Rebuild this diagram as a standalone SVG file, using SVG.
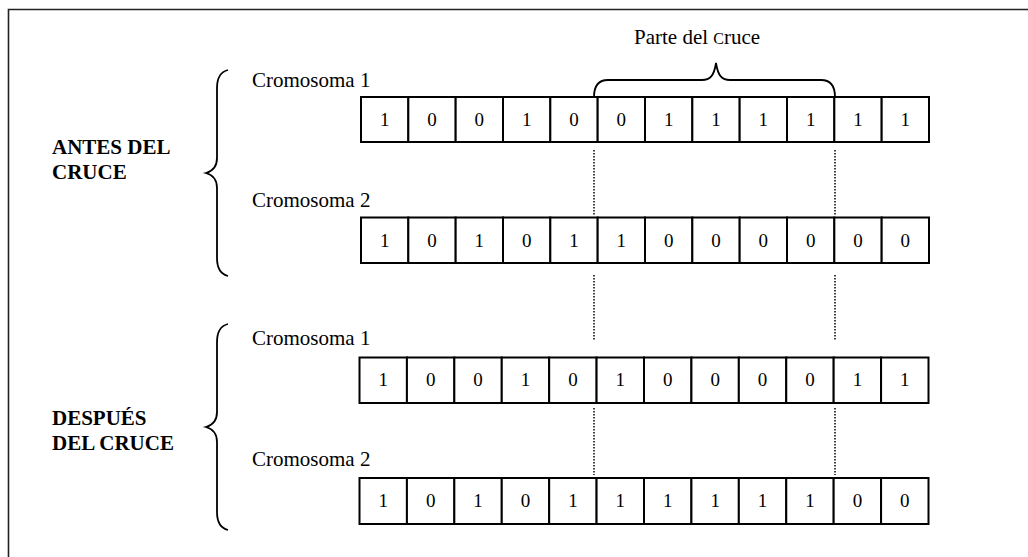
<svg xmlns="http://www.w3.org/2000/svg" width="1028" height="557" viewBox="0 0 1028 557">
  <style>
    .frame { fill: none; stroke: #222; stroke-width: 1.6; }
    .cell { fill: #fff; stroke: #000; stroke-width: 2; }
    .bit { font-family: "Liberation Serif", "Times New Roman", serif; font-size: 19px; fill: #000; text-anchor: middle; }
    .label { font-family: "Liberation Serif", "Times New Roman", serif; font-size: 21px; fill: #000; }
    .title { font-family: "Liberation Serif", "Times New Roman", serif; font-size: 21px; font-weight: bold; fill: #000; }
    .brace { fill: none; stroke: #000; stroke-width: 1.8; }
    .cut { fill: none; stroke: #000; stroke-width: 1.5; stroke-dasharray: 1.5 1.5; }
  </style>

  <rect width="1028" height="557" fill="#fff"/>
  <!-- page frame (right and bottom edges fall outside the view) -->
  <path class="frame" d="M8.5,600 L8.5,9.5 L1040,9.5"/>

  <!-- group headings -->
  <g id="antes">
    <text class="title" x="52" y="154">ANTES DEL</text>
    <text class="title" x="52" y="179">CRUCE</text>
    <path class="brace" d="M228,70 C220,72 217,78 217,88 L217,158 C217,166 213,171 206,173 C213,175 217,180 217,188 L217,258 C217,268 220,274 228,276"/>
  </g>
  <g id="despues">
    <text class="title" x="52" y="425">DESPUÉS</text>
    <text class="title" x="52" y="450">DEL CRUCE</text>
    <path class="brace" d="M228,324 C220,326 217,332 217,342 L217,412 C217,420 213,425 206,427 C213,429 217,434 217,442 L217,512 C217,522 220,528 228,530"/>
  </g>

  <!-- crossover segment marker -->
  <g id="parte-cruce">
    <text class="label" x="634" y="44">Parte del <tspan font-size="16">C</tspan>ruce</text>
    <path class="brace" d="M594,97 C594,86 598,80 608,80 L702,80 C710,80 714,76 716,63 C718,76 722,80 730,80 L821,80 C831,80 835,86 835,97"/>
  </g>

  <!-- chromosome labels -->
  <text class="label" x="252" y="87">Cromosoma 1</text>
  <text class="label" x="252" y="207">Cromosoma 2</text>
  <text class="label" x="252" y="345">Cromosoma 1</text>
  <text class="label" x="252" y="466">Cromosoma 2</text>

  <!-- before crossover: chromosome 1 -->
  <g id="antes-c1" transform="translate(361,97)">
    <rect class="cell" x="0" y="0" width="47.33" height="45"/>
    <rect class="cell" x="47.33" y="0" width="47.33" height="45"/>
    <rect class="cell" x="94.67" y="0" width="47.33" height="45"/>
    <rect class="cell" x="142" y="0" width="47.33" height="45"/>
    <rect class="cell" x="189.33" y="0" width="47.33" height="45"/>
    <rect class="cell" x="236.67" y="0" width="47.33" height="45"/>
    <rect class="cell" x="284" y="0" width="47.33" height="45"/>
    <rect class="cell" x="331.33" y="0" width="47.33" height="45"/>
    <rect class="cell" x="378.67" y="0" width="47.33" height="45"/>
    <rect class="cell" x="426" y="0" width="47.33" height="45"/>
    <rect class="cell" x="473.33" y="0" width="47.33" height="45"/>
    <rect class="cell" x="520.67" y="0" width="47.33" height="45"/>
    <text class="bit" x="23.67" y="29">1</text>
    <text class="bit" x="71" y="29">0</text>
    <text class="bit" x="118.33" y="29">0</text>
    <text class="bit" x="165.67" y="29">1</text>
    <text class="bit" x="213" y="29">0</text>
    <text class="bit" x="260.33" y="29">0</text>
    <text class="bit" x="307.67" y="29">1</text>
    <text class="bit" x="355" y="29">1</text>
    <text class="bit" x="402.33" y="29">1</text>
    <text class="bit" x="449.67" y="29">1</text>
    <text class="bit" x="497" y="29">1</text>
    <text class="bit" x="544.33" y="29">1</text>
  </g>

  <!-- before crossover: chromosome 2 -->
  <g id="antes-c2" transform="translate(361,217.5)">
    <rect class="cell" x="0" y="0" width="47.33" height="45.5"/>
    <rect class="cell" x="47.33" y="0" width="47.33" height="45.5"/>
    <rect class="cell" x="94.67" y="0" width="47.33" height="45.5"/>
    <rect class="cell" x="142" y="0" width="47.33" height="45.5"/>
    <rect class="cell" x="189.33" y="0" width="47.33" height="45.5"/>
    <rect class="cell" x="236.67" y="0" width="47.33" height="45.5"/>
    <rect class="cell" x="284" y="0" width="47.33" height="45.5"/>
    <rect class="cell" x="331.33" y="0" width="47.33" height="45.5"/>
    <rect class="cell" x="378.67" y="0" width="47.33" height="45.5"/>
    <rect class="cell" x="426" y="0" width="47.33" height="45.5"/>
    <rect class="cell" x="473.33" y="0" width="47.33" height="45.5"/>
    <rect class="cell" x="520.67" y="0" width="47.33" height="45.5"/>
    <text class="bit" x="23.67" y="29">1</text>
    <text class="bit" x="71" y="29">0</text>
    <text class="bit" x="118.33" y="29">1</text>
    <text class="bit" x="165.67" y="29">0</text>
    <text class="bit" x="213" y="29">1</text>
    <text class="bit" x="260.33" y="29">1</text>
    <text class="bit" x="307.67" y="29">0</text>
    <text class="bit" x="355" y="29">0</text>
    <text class="bit" x="402.33" y="29">0</text>
    <text class="bit" x="449.67" y="29">0</text>
    <text class="bit" x="497" y="29">0</text>
    <text class="bit" x="544.33" y="29">0</text>
  </g>

  <!-- after crossover: chromosome 1 -->
  <g id="despues-c1" transform="translate(359.5,357.5)">
    <rect class="cell" x="0" y="0" width="47.42" height="45.5"/>
    <rect class="cell" x="47.42" y="0" width="47.42" height="45.5"/>
    <rect class="cell" x="94.83" y="0" width="47.42" height="45.5"/>
    <rect class="cell" x="142.25" y="0" width="47.42" height="45.5"/>
    <rect class="cell" x="189.67" y="0" width="47.42" height="45.5"/>
    <rect class="cell" x="237.08" y="0" width="47.42" height="45.5"/>
    <rect class="cell" x="284.5" y="0" width="47.42" height="45.5"/>
    <rect class="cell" x="331.92" y="0" width="47.42" height="45.5"/>
    <rect class="cell" x="379.33" y="0" width="47.42" height="45.5"/>
    <rect class="cell" x="426.75" y="0" width="47.42" height="45.5"/>
    <rect class="cell" x="474.17" y="0" width="47.42" height="45.5"/>
    <rect class="cell" x="521.58" y="0" width="47.42" height="45.5"/>
    <text class="bit" x="23.71" y="28">1</text>
    <text class="bit" x="71.13" y="28">0</text>
    <text class="bit" x="118.54" y="28">0</text>
    <text class="bit" x="165.96" y="28">1</text>
    <text class="bit" x="213.38" y="28">0</text>
    <text class="bit" x="260.79" y="28">1</text>
    <text class="bit" x="308.21" y="28">0</text>
    <text class="bit" x="355.63" y="28">0</text>
    <text class="bit" x="403.04" y="28">0</text>
    <text class="bit" x="450.46" y="28">0</text>
    <text class="bit" x="497.88" y="28">1</text>
    <text class="bit" x="545.29" y="28">1</text>
  </g>

  <!-- after crossover: chromosome 2 -->
  <g id="despues-c2" transform="translate(359.5,478)">
    <rect class="cell" x="0" y="0" width="47.42" height="46"/>
    <rect class="cell" x="47.42" y="0" width="47.42" height="46"/>
    <rect class="cell" x="94.83" y="0" width="47.42" height="46"/>
    <rect class="cell" x="142.25" y="0" width="47.42" height="46"/>
    <rect class="cell" x="189.67" y="0" width="47.42" height="46"/>
    <rect class="cell" x="237.08" y="0" width="47.42" height="46"/>
    <rect class="cell" x="284.5" y="0" width="47.42" height="46"/>
    <rect class="cell" x="331.92" y="0" width="47.42" height="46"/>
    <rect class="cell" x="379.33" y="0" width="47.42" height="46"/>
    <rect class="cell" x="426.75" y="0" width="47.42" height="46"/>
    <rect class="cell" x="474.17" y="0" width="47.42" height="46"/>
    <rect class="cell" x="521.58" y="0" width="47.42" height="46"/>
    <text class="bit" x="23.71" y="29">1</text>
    <text class="bit" x="71.13" y="29">0</text>
    <text class="bit" x="118.54" y="29">1</text>
    <text class="bit" x="165.96" y="29">0</text>
    <text class="bit" x="213.38" y="29">1</text>
    <text class="bit" x="260.79" y="29">1</text>
    <text class="bit" x="308.21" y="29">1</text>
    <text class="bit" x="355.63" y="29">1</text>
    <text class="bit" x="403.04" y="29">1</text>
    <text class="bit" x="450.46" y="29">1</text>
    <text class="bit" x="497.88" y="29">0</text>
    <text class="bit" x="545.29" y="29">0</text>
  </g>

  <!-- crossover cut lines -->
  <g id="cortes">
    <path class="cut" d="M594,150 L594,216 M594,275 L594,341 M594,408 L594,475"/>
    <path class="cut" d="M835,150 L835,216 M835,275 L835,341 M835,408 L835,475"/>
  </g>
</svg>
